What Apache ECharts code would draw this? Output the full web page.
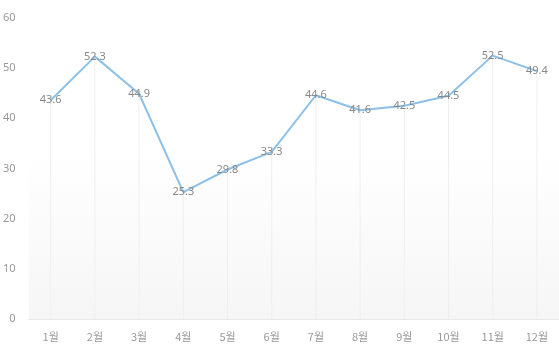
<!DOCTYPE html>
<html><head><meta charset="utf-8">
<script src="https://cdn.jsdelivr.net/npm/echarts@6/dist/echarts.min.js"></script>
<style>html,body{margin:0;padding:0;background:#fff}#c{width:559px;height:354px}</style>
</head><body><div id="c"></div>
<script>
const categories = ['1월','2월','3월','4월','5월','6월','7월','8월','9월','10월','11월','12월'];
const values = [43.6, 52.3, 44.9, 25.3, 29.8, 33.3, 44.6, 41.6, 42.5, 44.5, 52.5, 49.4];
const yTicks = [0, 10, 20, 30, 40, 50, 60];

const chart = echarts.init(document.getElementById('c'), null, {renderer: 'canvas'});
chart.setOption({
  animation: false,
  grid: {
    left: 27, top: 18, width: 535, height: 301,
    show: true, borderWidth: 0,
    backgroundColor: new echarts.graphic.LinearGradient(0, 0, 0, 1, [
      {offset: 0, color: 'rgba(255,255,255,0)'},
      {offset: 0.45, color: 'rgba(255,255,255,1)'},
      {offset: 1, color: 'rgba(246,246,246,1)'}
    ])
  },
  xAxis: {
    type: 'category', data: categories, boundaryGap: true,
    axisLine: {lineStyle: {color: '#e8e8e8'}},
    axisTick: {show: false},
    axisLabel: {color: '#999', fontSize: 11, margin: 12, fontFamily: 'Noto Sans CJK KR'}
  },
  yAxis: {
    type: 'value', min: yTicks[0], max: yTicks[yTicks.length - 1], interval: 10,
    axisLine: {show: false}, axisTick: {show: false},
    splitLine: {show: false},
    axisLabel: {color: '#999', fontSize: 11, margin: 13, fontFamily: 'Noto Sans'}
  },
  series: [
    {
      type: 'bar', data: values, barWidth: 1, silent: true,
      itemStyle: {color: '#efefef'}, z: 1
    },
    {
      type: 'line', data: values, showSymbol: true, symbol: 'circle', symbolSize: 1,
      itemStyle: {color: 'rgba(0,0,0,0)'},
      lineStyle: {color: '#8cc0e8', width: 2}, z: 3,
      label: {show: true, position: 'inside', color: '#888', fontSize: 11, fontFamily: 'Noto Sans'}
    }
  ]
});
</script></body></html>
